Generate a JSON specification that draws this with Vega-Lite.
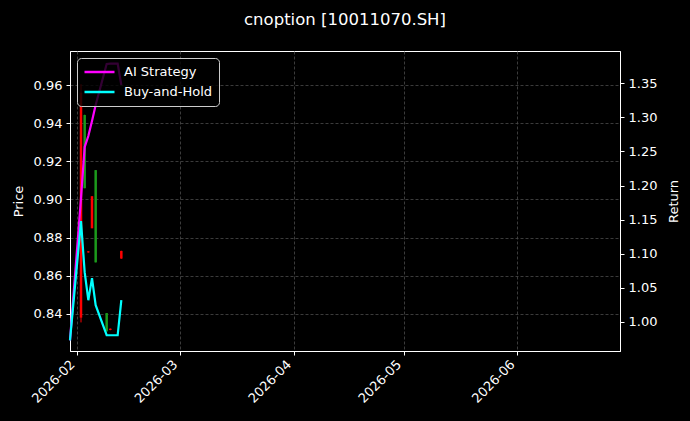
{
  "$schema": "https://vega.github.io/schema/vega-lite/v6.json",
  "width": 550,
  "height": 300,
  "autosize": {"type": "none"},
  "padding": {"left": 70, "top": 51, "right": 70, "bottom": 70},
  "background": "#000000",
  "title": {
    "text": "cnoption [10011070.SH]",
    "color": "#ffffff",
    "font": "DejaVu Sans",
    "fontSize": 16.5,
    "fontWeight": "normal",
    "anchor": "middle",
    "offset": 23
  },
  "datasets": {
    "candles": [
      {"date": "2026-02-02T00:00:00", "open": 0.8380, "high": 0.9605, "low": 0.8355, "close": 0.9560},
      {"date": "2026-02-03T00:00:00", "open": 0.9443, "high": 0.9445, "low": 0.9059, "close": 0.9059},
      {"date": "2026-02-04T00:00:00", "open": 0.8722, "high": 0.8729, "low": 0.8721, "close": 0.8728},
      {"date": "2026-02-05T00:00:00", "open": 0.8849, "high": 0.9017, "low": 0.8849, "close": 0.9017},
      {"date": "2026-02-06T00:00:00", "open": 0.9154, "high": 0.9154, "low": 0.8670, "close": 0.8670},
      {"date": "2026-02-09T00:00:00", "open": 0.8404, "high": 0.8404, "low": 0.8308, "close": 0.8308},
      {"date": "2026-02-10T00:00:00", "open": 0.8315, "high": 0.8323, "low": 0.8314, "close": 0.8322},
      {"date": "2026-02-13T00:00:00", "open": 0.8690, "high": 0.8731, "low": 0.8689, "close": 0.8730}
    ],
    "returns": [
      {"date": "2026-01-30T00:00:00", "series": "AI Strategy", "ret": 0.973},
      {"date": "2026-02-02T00:00:00", "series": "AI Strategy", "ret": 1.1817},
      {"date": "2026-02-03T00:00:00", "series": "AI Strategy", "ret": 1.2565},
      {"date": "2026-02-04T00:00:00", "series": "AI Strategy", "ret": 1.2727},
      {"date": "2026-02-05T00:00:00", "series": "AI Strategy", "ret": 1.2947},
      {"date": "2026-02-06T00:00:00", "series": "AI Strategy", "ret": 1.3182},
      {"date": "2026-02-09T00:00:00", "series": "AI Strategy", "ret": 1.3784},
      {"date": "2026-02-10T00:00:00", "series": "AI Strategy", "ret": 1.379},
      {"date": "2026-02-11T00:00:00", "series": "AI Strategy", "ret": 1.379},
      {"date": "2026-02-12T00:00:00", "series": "AI Strategy", "ret": 1.379},
      {"date": "2026-02-13T00:00:00", "series": "AI Strategy", "ret": 1.3476},
      {"date": "2026-01-30T00:00:00", "series": "Buy-and-Hold", "ret": 0.973},
      {"date": "2026-02-02T00:00:00", "series": "Buy-and-Hold", "ret": 1.1479},
      {"date": "2026-02-03T00:00:00", "series": "Buy-and-Hold", "ret": 1.073},
      {"date": "2026-02-04T00:00:00", "series": "Buy-and-Hold", "ret": 1.0319},
      {"date": "2026-02-05T00:00:00", "series": "Buy-and-Hold", "ret": 1.0642},
      {"date": "2026-02-06T00:00:00", "series": "Buy-and-Hold", "ret": 1.0245},
      {"date": "2026-02-09T00:00:00", "series": "Buy-and-Hold", "ret": 0.9805},
      {"date": "2026-02-10T00:00:00", "series": "Buy-and-Hold", "ret": 0.9805},
      {"date": "2026-02-11T00:00:00", "series": "Buy-and-Hold", "ret": 0.9805},
      {"date": "2026-02-12T00:00:00", "series": "Buy-and-Hold", "ret": 0.9805},
      {"date": "2026-02-13T00:00:00", "series": "Buy-and-Hold", "ret": 1.0319}
    ]
  },
  "encoding": {
    "x": {
      "field": "date",
      "type": "temporal",
      "title": null,
      "scale": {
        "domain": [
          {"year": 2026, "month": 1, "date": 30},
          {"year": 2026, "month": 6, "date": 29}
        ]
      },
      "axis": {
        "format": "%Y-%m",
        "tickCount": {"interval": "month", "step": 1},
        "labelAngle": -45,
        "labelAlign": "right",
        "labelBaseline": "bottom",
        "labelPadding": 12
      }
    }
  },
  "layer": [
    {
      "data": {"name": "candles"},
      "layer": [
        {
          "mark": {"type": "rule", "strokeWidth": 1},
          "encoding": {
            "y": {
              "field": "low",
              "type": "quantitative",
              "title": "Price",
              "scale": {"domain": [0.8205, 0.9779], "nice": false, "zero": false},
              "axis": {"values": [0.84, 0.86, 0.88, 0.9, 0.92, 0.94, 0.96], "format": ".2f", "orient": "left"}
            },
            "y2": {"field": "high"},
            "color": {
              "condition": {"test": "datum.close >= datum.open", "value": "#ff0000"},
              "value": "#1c9a1c"
            }
          }
        },
        {
          "mark": {"type": "rule", "strokeWidth": 2.5},
          "encoding": {
            "y": {
              "field": "open",
              "type": "quantitative",
              "title": "Price",
              "scale": {"domain": [0.8205, 0.9779], "nice": false, "zero": false},
              "axis": {"values": [0.84, 0.86, 0.88, 0.9, 0.92, 0.94, 0.96], "format": ".2f", "orient": "left"}
            },
            "y2": {"field": "close"},
            "color": {
              "condition": {"test": "datum.close >= datum.open", "value": "#ff0000"},
              "value": "#1c9a1c"
            }
          }
        }
      ]
    },
    {
      "data": {"name": "returns"},
      "mark": {"type": "line", "strokeWidth": 2.2},
      "encoding": {
        "y": {
          "field": "ret",
          "type": "quantitative",
          "title": "Return",
          "scale": {"domain": [0.9574, 1.3974], "nice": false, "zero": false},
          "axis": {"values": [1.0, 1.05, 1.1, 1.15, 1.2, 1.25, 1.3, 1.35], "format": ".2f", "orient": "right", "titleAngle": 270, "titlePadding": 24}
        },
        "color": {
          "field": "series",
          "type": "nominal",
          "scale": {"domain": ["AI Strategy", "Buy-and-Hold"], "range": ["#ff00ff", "#00ffff"]},
          "legend": {"title": null}
        }
      }
    }
  ],
  "resolve": {"scale": {"y": "independent"}},
  "config": {
    "view": {"stroke": "#ffffff", "strokeWidth": 1},
    "axis": {
      "labelColor": "#ffffff",
      "titleColor": "#ffffff",
      "domainColor": "#ffffff",
      "tickColor": "#ffffff",
      "labelFont": "DejaVu Sans",
      "titleFont": "DejaVu Sans",
      "labelFontSize": 13,
      "titleFontSize": 13,
      "titleFontWeight": "normal",
      "tickSize": 4,
      "labelPadding": 4,
      "titlePadding": 6
    },
    "axisX": {"grid": true, "gridColor": "#4a4a4a", "gridDash": [3, 2], "gridWidth": 0.8},
    "axisLeft": {"grid": true, "gridColor": "#4a4a4a", "gridDash": [3, 2], "gridWidth": 0.8, "titlePadding": 8},
    "axisRight": {"grid": true, "gridColor": "#2a2a2a", "gridWidth": 1},
    "legend": {
      "orient": "top-left",
      "offset": 7,
      "zindex": 1,
      "fillColor": "rgba(0,0,0,0.8)",
      "strokeColor": "#cccccc",
      "cornerRadius": 4,
      "padding": 6,
      "labelColor": "#ffffff",
      "labelFont": "DejaVu Sans",
      "labelFontSize": 13,
      "symbolType": "stroke",
      "symbolSize": 900,
      "symbolStrokeWidth": 2.5,
      "clipHeight": 16,
      "rowPadding": 4,
      "labelOffset": 8
    }
  }
}
